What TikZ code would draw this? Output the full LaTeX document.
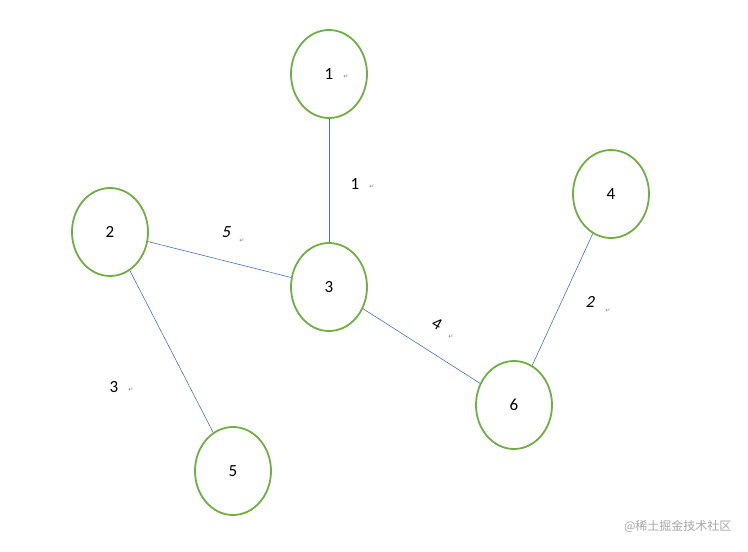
\documentclass[tikz,border=0pt]{standalone}
\usepackage{fontspec}
\setmainfont{Carlito}
\newfontfamily\symf{DejaVu Sans}
\newfontfamily\cjk{Noto Sans CJK SC}
\usetikzlibrary{shapes.geometric}
\definecolor{ng}{HTML}{70AD47}
\definecolor{eb}{HTML}{4472C4}
\tikzset{
 vert/.style={ellipse,draw=ng,line width=1.8pt,minimum width=76pt,minimum height=88pt,font=\fontsize{17}{20}\selectfont,inner sep=0pt},
 edge/.style={draw=eb,line width=0.6pt},
 wt/.style={font=\fontsize{17}{20}\selectfont,inner sep=0pt},
 ret/.style={font=\symf\fontsize{6}{7}\selectfont,text=gray,inner sep=0pt}
}
\begin{document}
\begin{tikzpicture}[x=1pt,y=-1pt]
\useasboundingbox (0,0) rectangle (748,552);
\node[vert] (n1) at (329,74) {1};
\node[vert] (n2) at (110,232) {2};
\node[vert] (n3) at (329,287) {3};
\node[vert] (n4) at (611,194) {4};
\node[vert] (n5) at (233,471) {5};
\node[vert] (n6) at (514,405) {6};
\draw[edge] (n1) -- (n3);
\draw[edge] (n2) -- (n3);
\draw[edge] (n2) -- (n5);
\draw[edge] (n3) -- (n6);
\draw[edge] (n4) -- (n6);
\node[ret] (r1) at (346,77) {↵};
\node[wt] (w1) at (355,184) {1};
\node[ret] (r1b) at (372,187) {↵};
\node[wt,xslant=0.2] (w5) at (227,232) {5};
\node[ret] (r5) at (242,241) {↵};
\node[wt] (w3) at (114,387) {3};
\node[ret] (r3) at (131,390) {↵};
\node[wt,rotate=-30] (w4) at (437,324) {4};
\node[ret] (r4) at (451,337) {↵};
\node[wt,xslant=0.2] (w2) at (591,302) {2};
\node[ret] (r2) at (608,311) {↵};
\node[font=\cjk\fontsize{12}{14}\selectfont,text=gray!70,anchor=east] (wm) at (735,526) {@稀土掘金技术社区};
\end{tikzpicture}
\end{document}
